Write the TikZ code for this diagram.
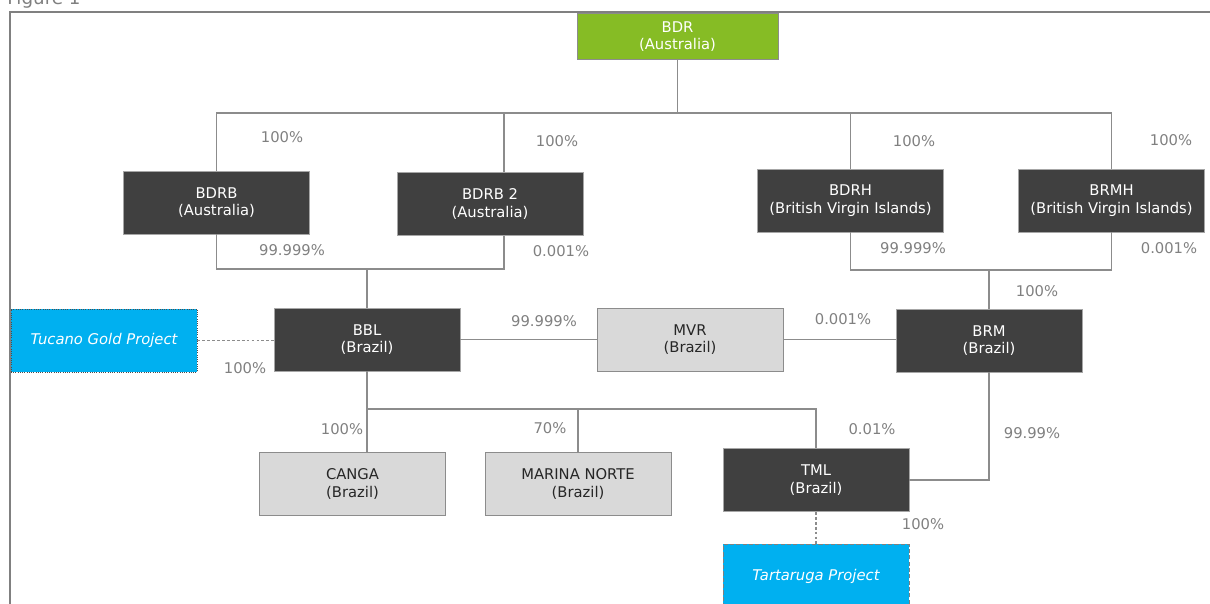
\documentclass[tikz,border=0pt]{standalone}
\usepackage{fontspec}
\setmainfont{DejaVu Sans}
\usepackage{tikz}
\usetikzlibrary{positioning}
\definecolor{bdrgreen}{HTML}{86BC25}
\definecolor{darkbox}{HTML}{404040}
\definecolor{lightbox}{HTML}{D9D9D9}
\definecolor{projblue}{HTML}{00B0F0}
\definecolor{linegray}{HTML}{8C8C8C}
\definecolor{pctgray}{HTML}{808080}

\begin{document}
\begin{tikzpicture}[x=0.025cm, y=-0.025cm,
        entity/.style={rectangle, draw=linegray, line width=0.6pt, minimum width=4.65cm, minimum height=1.575cm, inner sep=0pt, align=center, font=\fontsize{10.5}{12.5}\selectfont},
        parent/.style={entity, fill=bdrgreen, text=white, minimum width=5.025cm, minimum height=1.15cm},
        holding/.style={entity, fill=darkbox, draw=gray!70, text=white},
        local/.style={entity, fill=lightbox, text=black!85},
        project/.style={entity, fill=projblue, text=white, font=\fontsize{10.5}{12.5}\selectfont\itshape},
        link/.style={draw=linegray, line width=0.8pt},
        pct/.style={text=pctgray, font=\fontsize{10.5}{12.5}\selectfont, inner sep=0pt}
    ]
        \useasboundingbox (0,0) rectangle (1210,604);
        \clip (0,0) rectangle (1210,604);

        % frame and caption
        \draw[draw=gray, line width=1.1pt] (10,640) -- (10,12) -- (1240,12);
        \node[anchor=base west, text=gray, font=\fontsize{13}{15}\selectfont, inner sep=0pt] (caption) at (7,5) {Figure 1};

        % entities
        \node[parent] (bdr) at (677.5,36.5) {BDR\\(Australia)};
        \node[holding] (bdrb) at (216.5,202.5) {BDRB\\(Australia)};
        \node[holding] (bdrb2) at (490,204) {BDRB 2\\(Australia)};
        \node[holding] (bdrh) at (850.5,200.5) {BDRH\\(British Virgin Islands)};
        \node[holding] (brmh) at (1111.5,200.5) {BRMH\\(British Virgin Islands)};
        \node[holding] (bbl) at (367,339.5) {BBL\\(Brazil)};
        \node[local] (mvr) at (690,339.5) {MVR\\(Brazil)};
        \node[holding] (brm) at (989,340.5) {BRM\\(Brazil)};
        \node[project, draw=black!70, densely dotted] (tucano) at (104,340.5) {Tucano Gold Project};
        \node[local] (canga) at (352.5,484) {CANGA\\(Brazil)};
        \node[local] (marina) at (578,484) {MARINA NORTE\\(Brazil)};
        \node[holding] (tml) at (816,480) {TML\\(Brazil)};
        \node[project, draw=gray, dash pattern=on 3pt off 1.5pt] (tarta) at (816,576) {Tartaruga Project};

        % ownership lines
        \coordinate (bus1) at (679,113);
        \coordinate (drop2) at (504,113);
        \draw[link] (bdr.south) -- (bdr.south |- bus1);
        \draw[link] (bdrb.north) |- (bus1) -| (brmh.north);
        \draw[link] (drop2) -- (drop2 |- bdrb2.north);
        \draw[link] (bdrh.north) -- (bdrh.north |- bus1);

        \coordinate (join1) at (367,269);
        \draw[link] (bdrb.south) |- (join1) -| (drop2 |- bdrb2.south);
        \draw[link] (join1) -- (bbl.north);

        \coordinate (join2) at (989,270);
        \draw[link] (bdrh.south) |- (join2) -| (brmh.south);
        \draw[link] (join2) -- (brm.north);

        \draw[link] (bbl) -- (mvr);
        \draw[link] (mvr) -- (mvr -| brm.west);
        \draw[link, dash pattern=on 2pt off 1.5pt] (tucano) -- (tucano -| bbl.west);

        \coordinate (join3) at (367,409);
        \draw[link] (bbl.south) -- (join3) -| (tml.north);
        \draw[link] (join3) -- (join3 |- canga.north);
        \draw[link] (marina.north) -- (marina.north |- join3);
        \draw[link] (brm.south) |- (tml.east);
        \draw[link, dash pattern=on 2pt off 1.5pt] (tml.south) -- (tarta.north);

        % percentages
        \node[pct] (p1) at (282,137) {100\%};
        \node[pct] (p2) at (557,141) {100\%};
        \node[pct] (p3) at (914,141) {100\%};
        \node[pct] (p4) at (1171,140) {100\%};
        \node[pct] (p5) at (292,250) {99.999\%};
        \node[pct] (p6) at (561,251) {0.001\%};
        \node[pct] (p7) at (913,248) {99.999\%};
        \node[pct] (p8) at (1169,248) {0.001\%};
        \node[pct] (p9) at (1037,291) {100\%};
        \node[pct] (p10) at (245,368) {100\%};
        \node[pct] (p11) at (544,321) {99.999\%};
        \node[pct] (p12) at (843,319) {0.001\%};
        \node[pct] (p13) at (342,429) {100\%};
        \node[pct] (p14) at (550,428) {70\%};
        \node[pct] (p15) at (872,429) {0.01\%};
        \node[pct] (p16) at (1032,433) {99.99\%};
        \node[pct] (p17) at (923,524) {100\%};
    \end{tikzpicture}
\end{document}
